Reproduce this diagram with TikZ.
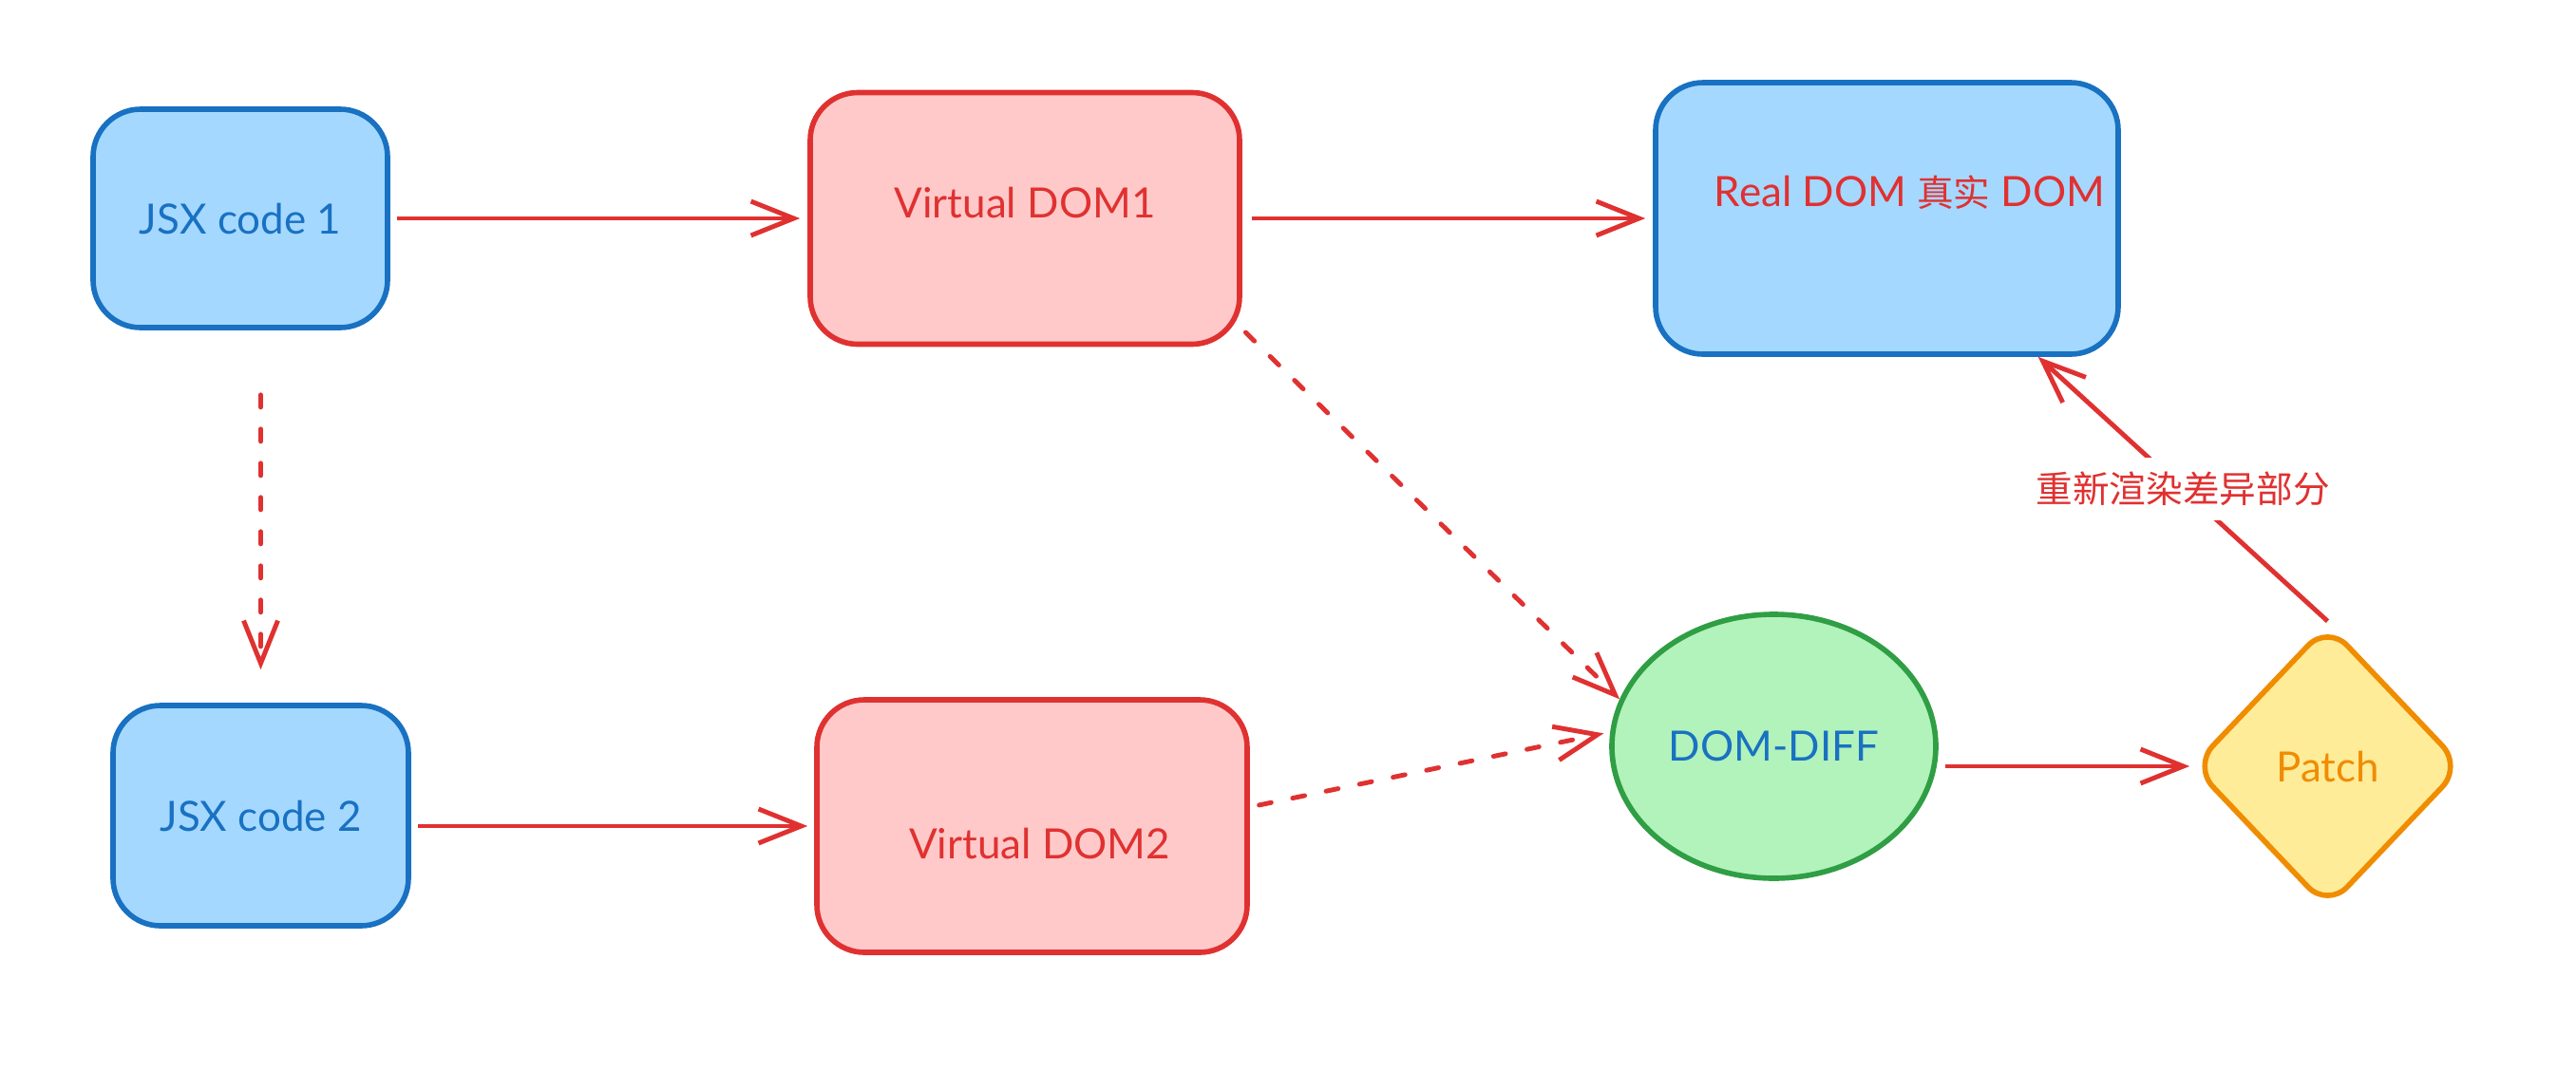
\documentclass[tikz,border=0pt]{standalone}
\usepackage{fontspec}
\setmainfont{Lato}
\newfontfamily\cjk{Noto Sans CJK SC}[Scale=0.88]
\usetikzlibrary{arrows.meta,positioning,calc,shapes.geometric}
\definecolor{ExBlue}{HTML}{1971C2}
\definecolor{ExBlueFill}{HTML}{A5D8FF}
\definecolor{ExRed}{HTML}{E03131}
\definecolor{ExRedFill}{HTML}{FFC9C9}
\definecolor{ExGreen}{HTML}{2F9E44}
\definecolor{ExGreenFill}{HTML}{B2F2BB}
\definecolor{ExOrange}{HTML}{F08C00}
\definecolor{ExYellowFill}{HTML}{FFEC99}

\begin{document}
\begin{tikzpicture}[
  every node/.style={font=\fontsize{12.5}{15}\selectfont,align=center},
  bbox/.style={draw=ExBlue,fill=ExBlueFill,line width=1.6pt,rounded corners=5mm},
  rbox/.style={draw=ExRed,fill=ExRedFill,line width=1.6pt,rounded corners=5mm},
  arr/.style={-{Straight Barb[length=4.5mm,width=3.6mm]},line width=1.4pt,color=ExRed},
  darr/.style={arr,dash pattern=on 1.3mm off 2.3mm,line cap=round}
]
\useasboundingbox (0,0) rectangle (27.12,-11.28);
\node[bbox,minimum width=3.1cm,minimum height=2.3cm,text=ExBlue] (jsx1) at (2.53,-2.30) {JSX code 1};
\node[rbox,minimum width=4.52cm,minimum height=2.65cm,
  label={[text=ExRed,yshift=1.7mm]center:Virtual DOM1}] (vdom1) at (10.79,-2.30) {};
\node[bbox,minimum width=4.87cm,minimum height=2.86cm,
  label={[text=ExRed,xshift=2.4mm,yshift=2.7mm]center:Real DOM {\cjk 真实} DOM}] (real) at (19.865,-2.30) {};
\node[bbox,minimum width=3.11cm,minimum height=2.32cm,text=ExBlue] (jsx2) at (2.745,-8.59) {JSX code 2};
\node[rbox,minimum width=4.53cm,minimum height=2.66cm,
  label={[text=ExRed,xshift=0.8mm,yshift=-1.8mm]center:Virtual DOM2}] (vdom2) at (10.865,-8.70) {};
\node[ellipse,draw=ExGreen,fill=ExGreenFill,line width=1.6pt,inner sep=0pt,
  minimum width=3.41cm,minimum height=2.78cm,text=ExBlue] (diff) at (18.675,-7.86) {DOM-DIFF};
\node[diamond,draw=ExOrange,fill=ExYellowFill,line width=1.6pt,rounded corners=3mm,inner sep=0pt,
  minimum width=2.85cm,minimum height=3.0cm,text=ExOrange] (patch) at (24.505,-8.07) {Patch};

\draw[arr,shorten <=0.7mm,shorten >=0.8mm] (jsx1) -- (vdom1);
\draw[arr,shorten <=1mm,shorten >=0.8mm] (vdom1) -- (real);
\draw[darr,shorten <=6.8mm,shorten >=3.5mm] (jsx2.north |- jsx1.south) -- (jsx2.north);
\draw[arr,shorten <=0.7mm,shorten >=0.7mm] (jsx2.east |- vdom2.west) -- (vdom2.west);
\draw[darr,shorten <=0.5mm] (vdom1.-27) -- (diff.163);
\draw[darr,shorten <=1mm,shorten >=0.7mm] (vdom2.5) -- (diff.175);
\draw[arr,shorten <=0.7mm] (diff.east |- patch.west) -- (patch.west);
\draw[arr] (patch.north) -- node[fill=white,text=ExRed,inner sep=1.5mm] {\cjk 重新渲染差异部分} (real);
\end{tikzpicture}
\end{document}
